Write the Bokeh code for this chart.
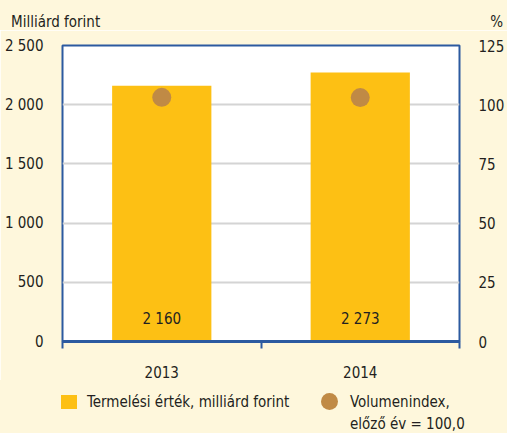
from bokeh.plotting import figure
from bokeh.layouts import column
from bokeh.models import (Range1d, LinearAxis, FixedTicker, ColumnDataSource, Div)
from bokeh.core.properties import value
from bokeh.embed import file_html
from bokeh.resources import INLINE

# ---- data ----
years = ["2013", "2014"]
production = [2160, 2273]          # Milliárd forint
volume_index = [103.1, 103.0]      # %, előző év = 100,0
bar_labels = ["2 160", "2 273"]
left_ticks = [0, 500, 1000, 1500, 2000, 2500]
left_tick_labels = ["0", "500", "1 000", "1 500", "2 000", "2 500"]
right_ticks = [0, 25, 50, 75, 100, 125]
left_unit = "Milliárd forint"
right_unit = "%"
bar_name = "Termelési érték, milliárd forint"
dot_name = ["Volumenindex,", "előző év = 100,0"]

FONT = "DejaVu Sans Condensed"
FS = "15px"
TXT = "#231F20"
BG = "#FEF7DC"
BAR = "#FDC014"
DOT = "#C08A45"
BLUE = "#2C5AA0"
GRID = "#D4D4D4"
W = 507

BOX = ("position:relative;width:%dpx;height:%dpx;overflow:visible;margin:0;padding:0;"
       "font-family:'%s';font-size:%s;line-height:18px;color:%s;background:%s;")
SPAN = "position:absolute;white-space:nowrap;"

# ---- header ----
head_html = ('<div style="' + BOX % (W, 30, FONT, FS, TXT, BG) + '">'
             '<span style="' + SPAN + 'left:11px;top:13px;">' + left_unit + '</span>'
             '<span style="' + SPAN + 'right:4px;top:13px;">' + right_unit + '</span>'
             '</div>')
head = Div(text=head_html, width=W, height=30, margin=0, styles={"background-color": BG})

# ---- main chart ----
xpos = [i + 0.5 for i in range(len(years))]
src = ColumnDataSource(dict(x=xpos, prod=production, vol=volume_index,
                            lab=bar_labels, zero=[0] * len(years)))

p = figure(width=W, height=350, output_backend="svg", toolbar_location=None,
           x_range=Range1d(0, len(years)), y_range=Range1d(0, 2500),
           min_border_left=62, min_border_right=45, min_border_top=15, min_border_bottom=38,
           background_fill_color="white", border_fill_color=BG, margin=0)
p.extra_y_ranges = {"pct": Range1d(0, 125)}
p.outline_line_color = BLUE
p.outline_line_width = 2
p.xgrid.visible = False
p.ygrid.ticker = FixedTicker(ticks=left_ticks)
p.ygrid.grid_line_color = GRID
p.ygrid.grid_line_width = 2

p.vbar(x="x", top="prod", width=0.5, source=src, fill_color=BAR, line_color=None)
p.ellipse(x="x", y="vol", width=19, height=19, width_units="screen", height_units="screen",
          source=src, y_range_name="pct", fill_color=DOT, line_color=None)
p.text(x="x", y="zero", text="lab", source=src, text_align="center", text_baseline="middle",
       y_offset=-23, text_font=value(FONT), text_font_size=FS, text_color=TXT)

xa = p.xaxis[0]
xa.ticker = FixedTicker(ticks=xpos, minor_ticks=list(range(len(years) + 1)))
xa.major_label_overrides = {xp: y for xp, y in zip(xpos, years)}
xa.major_tick_line_color = None
xa.major_tick_out = 0
xa.major_tick_in = 0
xa.minor_tick_line_color = BLUE
xa.minor_tick_line_width = 2
xa.minor_tick_out = 7
xa.minor_tick_in = 0
xa.axis_line_color = BLUE
xa.axis_line_width = 3
xa.major_label_standoff = 17
xa.major_label_text_font = FONT
xa.major_label_text_font_size = FS
xa.major_label_text_color = TXT

ya = p.yaxis[0]
ya.ticker = FixedTicker(ticks=left_ticks)
ya.major_label_overrides = {t: l for t, l in zip(left_ticks, left_tick_labels)}
ya.axis_line_color = None
ya.major_tick_line_color = None
ya.major_tick_out = 0
ya.minor_tick_line_color = None
ya.major_label_standoff = 19
ya.major_label_text_font = FONT
ya.major_label_text_font_size = FS
ya.major_label_text_color = TXT

ra = LinearAxis(y_range_name="pct", ticker=FixedTicker(ticks=right_ticks))
ra.axis_line_color = None
ra.major_tick_line_color = None
ra.major_tick_out = 0
ra.minor_tick_line_color = None
ra.major_label_standoff = 19
ra.major_label_text_font = FONT
ra.major_label_text_font_size = FS
ra.major_label_text_color = TXT
p.add_layout(ra, "right")

# ---- legend ----
leg_html = ('<div style="' + BOX % (W, 53, FONT, FS, TXT, BG) + '">'
            '<span style="' + SPAN + 'left:61px;top:15px;width:16px;height:14px;background:' + BAR + ';"></span>'
            '<span style="' + SPAN + 'left:87px;top:13px;">' + bar_name + '</span>'
            '<span style="' + SPAN + 'left:321px;top:13px;width:17px;height:17px;border-radius:50%;background:' + DOT + ';"></span>'
            '<span style="' + SPAN + 'left:350px;top:13px;">' + dot_name[0] + '</span>'
            '<span style="' + SPAN + 'left:350px;top:35px;">' + dot_name[1] + '</span>'
            '</div>')
leg = Div(text=leg_html, width=W, height=53, margin=0, styles={"background-color": BG})

layout = column(head, p, leg, spacing=0, margin=0)
html = file_html(layout, INLINE)
html = html.replace("<body>", '<body style="background:%s">' % BG, 1)
open("out.html", "w").write(html)
